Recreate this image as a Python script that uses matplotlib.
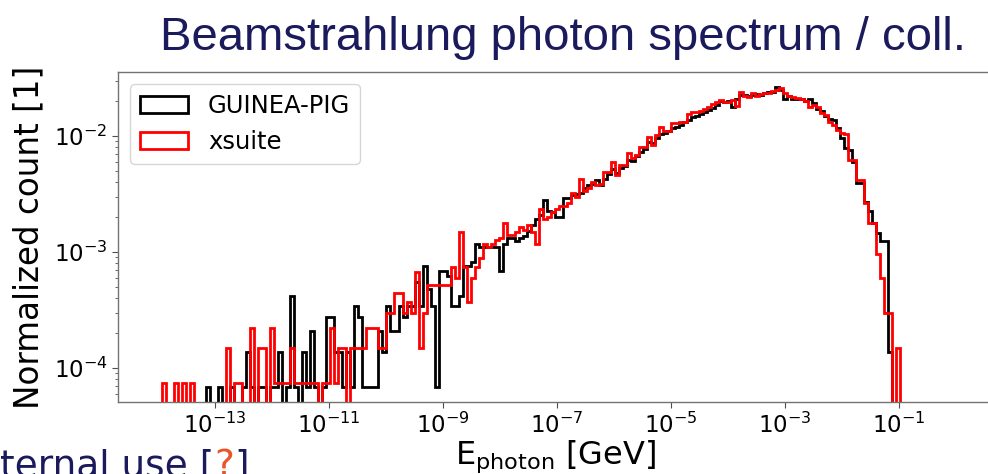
import numpy as np
import matplotlib
matplotlib.use("Agg")
import matplotlib.pyplot as plt
from matplotlib.patches import Patch
from matplotlib.ticker import FixedLocator, NullLocator, LogLocator

# ---------------- data ----------------
log10_emin, log10_emax, n_edges = -14.0, 0.0, 200   # log-spaced photon energy bins [GeV]
guinea_norm = 6.9e-5     # normalisation per photon (1/N), GUINEA-PIG
xsuite_norm = 7.4e-5     # normalisation per photon (1/N), xsuite

guinea_counts = [
    0, 0, 0, 0, 0, 0, 0, 0, 0, 0, 0, 0, 1, 0, 0, 1, 0, 0, 1, 0,
    0, 1, 2, 1, 0, 1, 1, 0, 1, 1, 2, 0, 1, 6, 1, 0, 2, 1, 3, 1,
    0, 1, 4, 4, 2, 2, 1, 2, 1, 5, 4, 1, 1, 1, 1, 3, 2, 5, 3, 3,
    5, 4, 5, 5, 8, 5, 11, 7, 5, 1, 10, 10, 9, 5, 5, 6, 11, 11, 12, 17,
    16, 16, 16, 16, 16, 10, 17, 19, 19, 18, 19, 20, 22, 25, 28, 30, 41, 33, 32, 29,
    29, 42, 42, 45, 46, 47, 52, 55, 56, 60, 55, 62, 68, 75, 70, 77, 80, 90, 88, 98,
    105, 113, 130, 125, 140, 150, 155, 160, 170, 175, 180, 190, 200, 210, 215, 224, 235, 245, 255, 270,
    290, 285, 290, 260, 300, 325, 330, 320, 325, 335, 330, 340, 345, 350, 386, 360, 300, 320, 300, 305,
    300, 290, 300, 280, 250, 240, 215, 205, 200, 170, 140, 115, 110, 87, 57, 57, 39, 33, 26, 21,
    18, 18, 2, 0, 0, 0,
]
xsuite_counts = [
    0, 1, 0, 0, 1, 0, 1, 0, 1, 0, 0, 0, 0, 0, 0, 0, 0, 2, 0, 1,
    1, 0, 0, 3, 0, 2, 2, 0, 3, 1, 1, 1, 1, 2, 1, 1, 1, 1, 1, 1,
    0, 1, 1, 3, 1, 2, 2, 0, 2, 2, 2, 2, 3, 3, 3, 2, 2, 4, 4, 6,
    6, 4, 5, 4, 9, 2, 4, 7, 7, 7, 7, 7, 7, 10, 8, 20, 10, 5, 8, 10,
    12, 16, 15, 16, 17, 18, 24, 19, 19, 20, 22, 21, 23, 20, 16, 32, 26, 27, 30, 32,
    34, 34, 36, 44, 40, 58, 45, 48, 54, 51, 52, 66, 66, 81, 62, 76, 76, 96, 88, 93,
    108, 108, 132, 113, 138, 162, 148, 150, 175, 175, 179, 179, 209, 217, 217, 220, 230, 240, 255, 265,
    275, 265, 265, 275, 245, 325, 300, 294, 318, 300, 310, 315, 320, 330, 338, 348, 315, 300, 295, 290,
    280, 270, 242, 250, 242, 214, 205, 180, 168, 152, 143, 140, 84, 84, 56, 56, 36, 24, 24, 13,
    8, 4, 4, 0, 2, 0,
]

x_tick_exponents = [-13, -11, -9, -7, -5, -3, -1]
y_tick_exponents = [-4, -3, -2]
ylim_log10 = (-4.293, -1.448)

title_text = "Beamstrahlung photon spectrum / coll."
footer_parts = [("ternal use [", "#1a1a5c"), ("?", "#e8552a"), ("]", "#1a1a5c")]

# ---------------- figure ----------------
W, H, DPI = 988, 474, 100
fig = plt.figure(figsize=(W / DPI, H / DPI), dpi=DPI)
plt.rcParams["font.family"] = ["DejaVu Sans"]

# axes extends past the right edge of the picture (cropped slide)
px_per_decade = 57.0
ax_left, ax_right, ax_top, ax_bottom = 118, 1060, 72, 402
xlim_lo = -14.7
xlim_hi = xlim_lo + (ax_right - ax_left) / px_per_decade
ax = fig.add_axes([ax_left / W, 1 - ax_bottom / H, (ax_right - ax_left) / W, (ax_bottom - ax_top) / H])
ax.set_xscale("log")
ax.set_yscale("log")

edges = np.logspace(log10_emin, log10_emax, n_edges)
nb = len(edges) - 1

def padded(c):
    a = np.zeros(nb)
    a[: len(c)] = c
    return a

series = [
    (padded(guinea_counts) * guinea_norm, "black", "GUINEA-PIG"),
    (padded(xsuite_counts) * xsuite_norm, "#ff0000", "xsuite"),
]
for vals, col, lab in series:
    ax.stairs(vals, edges, baseline=0, fill=False, color=col, lw=2.0)

ax.set_xlim(10 ** xlim_lo, 10 ** xlim_hi)
ax.set_ylim(10 ** ylim_log10[0], 10 ** ylim_log10[1])

ax.xaxis.set_major_locator(FixedLocator([10.0 ** e for e in x_tick_exponents]))
ax.xaxis.set_minor_locator(NullLocator())
ax.yaxis.set_major_locator(FixedLocator([10.0 ** e for e in y_tick_exponents]))
ax.yaxis.set_minor_locator(LogLocator(base=10, subs=np.arange(2, 10), numticks=20))

ax.tick_params(axis="both", which="major", labelsize=16.5, length=4, width=0.8, color="0.3")
ax.tick_params(axis="y", which="minor", length=2.5, width=0.6, color="0.3")
for s in ax.spines.values():
    s.set_color("0.45")
    s.set_linewidth(1.0)
ax.spines["right"].set_visible(False)

ax.set_ylabel("Normalized count [1]", fontsize=23.5, labelpad=6)
ax.set_xlabel(r"E$_{\rm photon}$ [GeV]", fontsize=23)
ax.xaxis.set_label_coords((556 - ax_left) / (ax_right - ax_left), -0.11)

handles = [Patch(facecolor="none", edgecolor=col, lw=2.0, label=lab) for _, col, lab in series]
ax.legend(handles=handles, loc="upper left", fontsize=17.5, fancybox=True,
          framealpha=0.8, edgecolor="0.8")

fig.text(160 / W, 1 - 50 / H, title_text, fontsize=34, family="Liberation Sans",
         color="#1a1a5c", va="baseline", ha="left")

# footer (slide text, cut off by the bottom edge as in the reference)
renderer = fig.canvas.get_renderer()
x = 0.0
for txt, col in footer_parts:
    t = fig.text(x, 1 - 476 / H, txt, fontsize=27, family="DejaVu Sans", color=col,
                 va="baseline", ha="left")
    bb = t.get_window_extent(renderer=renderer)
    x = bb.x1 / W

fig.savefig("out.png", dpi=DPI)
